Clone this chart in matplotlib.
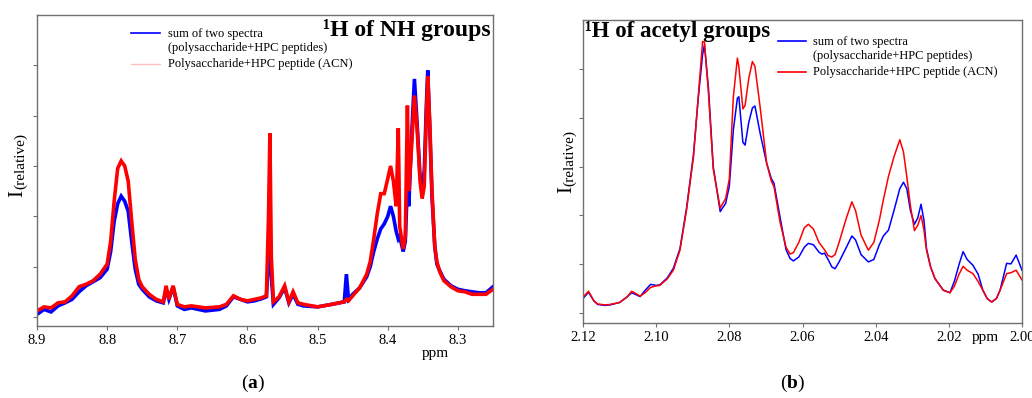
import matplotlib
matplotlib.use("Agg")
import matplotlib.pyplot as plt
from matplotlib.lines import Line2D

plt.rcParams['font.family'] = ['Liberation Serif', 'DejaVu Serif']
plt.rcParams['mathtext.fontset'] = 'custom'
plt.rcParams['mathtext.rm'] = 'Liberation Serif'
plt.rcParams['mathtext.bf'] = 'Liberation Serif:bold'

# ---------------- Data: (a) NH groups ----------------
NH_PPM = [8.900, 8.890, 8.880, 8.870, 8.860, 8.850, 8.840, 8.830, 8.820, 8.810,
          8.800, 8.795, 8.790, 8.785, 8.780, 8.775, 8.770, 8.765, 8.760, 8.755,
          8.750, 8.740, 8.730, 8.720, 8.716, 8.712, 8.706, 8.700, 8.690, 8.680,
          8.660, 8.640, 8.630, 8.620, 8.610, 8.600, 8.590, 8.580, 8.573, 8.570,
          8.568, 8.566, 8.563, 8.555, 8.547, 8.541, 8.535, 8.528, 8.520, 8.500,
          8.480, 8.462, 8.459, 8.456, 8.450, 8.440, 8.430, 8.425, 8.420, 8.415,
          8.410, 8.405, 8.400, 8.396, 8.392, 8.388, 8.385, 8.383, 8.378, 8.375,
          8.372, 8.370, 8.366, 8.362, 8.358, 8.354, 8.351, 8.348, 8.345, 8.343,
          8.340, 8.337, 8.333, 8.330, 8.326, 8.320, 8.310, 8.300, 8.290, 8.280,
          8.270, 8.260, 8.250]
NH_RED = [0.12, 0.20, 0.18, 0.28, 0.30, 0.42, 0.60, 0.65, 0.72, 0.85,
          1.05, 1.50, 2.30, 2.95, 3.10, 3.00, 2.70, 1.90, 1.15, 0.75,
          0.60, 0.45, 0.35, 0.30, 0.62, 0.35, 0.62, 0.25, 0.20, 0.22,
          0.18, 0.20, 0.25, 0.42, 0.35, 0.32, 0.35, 0.38, 0.42, 2.00,
          3.65, 1.20, 0.30, 0.40, 0.62, 0.30, 0.50, 0.28, 0.25, 0.20,
          0.25, 0.30, 0.35, 0.32, 0.42, 0.58, 0.85, 1.10, 1.55, 2.05,
          2.45, 2.45, 2.75, 3.00, 2.70, 2.20, 3.75, 1.80, 1.35, 1.60,
          4.20, 2.50, 3.40, 4.40, 3.70, 2.70, 2.35, 2.60, 4.00, 4.78,
          3.80, 2.50, 1.40, 1.10, 0.90, 0.72, 0.60, 0.52, 0.50, 0.45,
          0.45, 0.45, 0.55]
NH_BLUE = [0.05, 0.15, 0.10, 0.22, 0.28, 0.35, 0.50, 0.62, 0.70, 0.78,
           0.95, 1.30, 1.90, 2.25, 2.40, 2.30, 2.10, 1.50, 0.95, 0.65,
           0.55, 0.40, 0.32, 0.28, 0.55, 0.35, 0.60, 0.22, 0.15, 0.18,
           0.12, 0.15, 0.22, 0.40, 0.35, 0.30, 0.32, 0.36, 0.40, 1.20,
           1.57, 0.80, 0.25, 0.38, 0.58, 0.28, 0.45, 0.25, 0.22, 0.20,
           0.25, 0.30, 0.85, 0.35, 0.45, 0.58, 0.80, 1.00, 1.30, 1.55,
           1.75, 1.85, 2.00, 2.20, 2.00, 1.70, 1.55, 1.60, 1.30, 1.50,
           2.65, 2.20, 3.60, 4.73, 3.80, 2.80, 2.58, 2.90, 4.20, 4.90,
           3.70, 2.40, 1.40, 1.05, 0.92, 0.75, 0.62, 0.55, 0.52, 0.50,
           0.48, 0.48, 0.60]
NH_TICKS = [8.9, 8.8, 8.7, 8.6, 8.5, 8.4, 8.3]

# ---------------- Data: (b) acetyl groups ----------------
AC_PPM = [2.1200, 2.1185, 2.1170, 2.1160, 2.1140, 2.1126, 2.1100, 2.1080, 2.1067, 2.1055,
          2.1044, 2.1030, 2.1015, 2.1000, 2.0990, 2.0970, 2.0953, 2.0935, 2.0917, 2.0898,
          2.0885, 2.0873, 2.0868, 2.0857, 2.0844, 2.0825, 2.0810, 2.0800, 2.0789, 2.0778,
          2.0774, 2.0763, 2.0757, 2.0747, 2.0737, 2.0730, 2.0716, 2.0698, 2.0685, 2.0678,
          2.0661, 2.0645, 2.0634, 2.0625, 2.0610, 2.0595, 2.0584, 2.0570, 2.0555, 2.0547,
          2.0540, 2.0530, 2.0520, 2.0511, 2.0500, 2.0480, 2.0465, 2.0455, 2.0440, 2.0420,
          2.0405, 2.0390, 2.0379, 2.0365, 2.0350, 2.0334, 2.0324, 2.0315, 2.0305, 2.0294,
          2.0285, 2.0276, 2.0268, 2.0261, 2.0250, 2.0238, 2.0215, 2.0197, 2.0185, 2.0172,
          2.0161, 2.0150, 2.0134, 2.0120, 2.0107, 2.0095, 2.0083, 2.0070, 2.0060, 2.0042,
          2.0030, 2.0016, 2.0000]
AC_RED = [0.33, 0.45, 0.25, 0.19, 0.17, 0.18, 0.22, 0.33, 0.45, 0.40,
          0.35, 0.42, 0.53, 0.56, 0.57, 0.70, 0.88, 1.29, 2.11, 3.20,
          4.43, 5.56, 5.55, 4.50, 2.95, 2.15, 2.35, 2.75, 4.43, 5.22,
          5.05, 4.18, 4.25, 4.80, 5.15, 5.05, 4.23, 3.07, 2.70, 2.59,
          1.85, 1.35, 1.21, 1.24, 1.45, 1.75, 1.82, 1.72, 1.45, 1.37,
          1.30, 1.18, 1.15, 1.20, 1.45, 1.95, 2.28, 2.10, 1.60, 1.29,
          1.45, 1.90, 2.32, 2.80, 3.20, 3.55, 3.30, 2.80, 2.20, 1.69,
          1.80, 2.00, 1.70, 1.29, 0.95, 0.71, 0.47, 0.42, 0.55, 0.80,
          0.96, 0.88, 0.81, 0.65, 0.47, 0.30, 0.23, 0.30, 0.47, 0.81,
          0.83, 0.88, 0.68]
AC_BLUE = [0.30, 0.43, 0.25, 0.18, 0.16, 0.17, 0.22, 0.33, 0.42, 0.38,
           0.34, 0.47, 0.59, 0.57, 0.58, 0.72, 0.92, 1.32, 2.15, 3.25,
           4.40, 5.30, 5.49, 4.60, 3.00, 2.08, 2.25, 2.60, 3.75, 4.40,
           4.43, 3.50, 3.44, 3.90, 4.20, 4.24, 3.69, 3.07, 2.75, 2.66,
           1.95, 1.30, 1.12, 1.07, 1.15, 1.35, 1.43, 1.40, 1.25, 1.21,
           1.23, 1.10, 0.95, 0.91, 1.05, 1.35, 1.58, 1.50, 1.20, 1.05,
           1.10, 1.40, 1.58, 1.70, 2.10, 2.55, 2.68, 2.55, 2.10, 1.82,
           1.95, 2.23, 1.90, 1.32, 0.95, 0.71, 0.47, 0.42, 0.65, 1.00,
           1.26, 1.10, 0.98, 0.80, 0.47, 0.30, 0.23, 0.30, 0.47, 1.02,
           1.01, 1.19, 0.88]
AC_TICKS = [2.12, 2.10, 2.08, 2.06, 2.04, 2.02, 2.00]

LEGEND_BLUE = "sum of two spectra\n(polysaccharide+HPC peptides)"
LEGEND_RED = "Polysaccharide+HPC peptide (ACN)"

BLUE = '#0000ff'
RED = '#ff0000'
SPINE = '#707070'

fig = plt.figure(figsize=(10.32, 3.98), dpi=100)
W, H = 1032, 398


def px_axes(l, t, r, b):
    return fig.add_axes([l / W, 1 - b / H, (r - l) / W, (b - t) / H])


def style(ax):
    for s in ax.spines.values():
        s.set_color(SPINE)
        s.set_linewidth(1.0)
    ax.tick_params(axis='both', direction='out', color=SPINE, length=3,
                   width=0.8, labelsize=10.5, pad=3)
    ax.tick_params(axis='y', labelleft=False)
    ax.set_yticks([0, 1, 2, 3, 4, 5])


# ---- (a) ----
ax1 = px_axes(37, 15, 493, 326)
ax1.plot(NH_PPM, NH_BLUE, color=BLUE, lw=2.6, solid_joinstyle='miter')
ax1.plot(NH_PPM, NH_RED, color=RED, lw=2.6, solid_joinstyle='miter')
ax1.set_xlim(8.9, 8.25)
ax1.set_ylim(-0.18, 6.0)
ax1.set_xticks(NH_TICKS)
ax1.set_xticklabels([f"{t:.1f}" for t in NH_TICKS])
style(ax1)
fig.text(435 / W, 1 - 354 / H, "ppm", fontsize=11, ha='center', va='center')
fig.text(323 / W, 1 - 30 / H, "\u00b9H of NH groups", fontsize=17,
         fontweight='bold', ha='left', va='center')
fig.add_artist(Line2D([131 / W, 160 / W], [1 - 33 / H, 1 - 33 / H], color=BLUE, lw=1.2))
fig.add_artist(Line2D([131 / W, 160 / W], [1 - 64 / H, 1 - 64 / H], color='#ffc0c0', lw=1.0))
fig.text(168 / W, 1 - 41 / H, LEGEND_BLUE, fontsize=9, ha='left', va='center',
         linespacing=1.25)
fig.text(168 / W, 1 - 64 / H, LEGEND_RED, fontsize=9, ha='left', va='center')
fig.text(18 / W, 1 - 193 / H, "I", fontsize=15, rotation=90, ha='center', va='center')
fig.text(21 / W, 1 - 161 / H, "(relative)", fontsize=11, rotation=90, ha='center', va='center')
fig.text(253 / W, 1 - 383 / H, r"($\mathbf{a}$)", fontsize=14, ha='center', va='center')

# ---- (b) ----
ax2 = px_axes(583, 20, 1022, 323)
ax2.plot(AC_PPM, AC_BLUE, color=BLUE, lw=1.1)
ax2.plot(AC_PPM, AC_RED, color=RED, lw=1.1)
ax2.set_xlim(2.12, 2.00)
ax2.set_ylim(-0.2, 6.0)
ax2.set_xticks(AC_TICKS)
ax2.set_xticklabels([f"{t:.2f}" for t in AC_TICKS])
style(ax2)
fig.text(985 / W, 1 - 338 / H, "ppm", fontsize=11, ha='center', va='center')
fig.text(585 / W, 1 - 31 / H, "\u00b9H of acetyl groups", fontsize=16.5,
         fontweight='bold', ha='left', va='center')
fig.add_artist(Line2D([778 / W, 806 / W], [1 - 41 / H, 1 - 41 / H], color=BLUE, lw=1.2))
fig.add_artist(Line2D([778 / W, 806 / W], [1 - 72 / H, 1 - 72 / H], color=RED, lw=1.2))
fig.text(813 / W, 1 - 49 / H, LEGEND_BLUE, fontsize=9, ha='left', va='center',
         linespacing=1.25)
fig.text(813 / W, 1 - 72 / H, LEGEND_RED, fontsize=9, ha='left', va='center')
fig.text(567 / W, 1 - 190 / H, "I", fontsize=15, rotation=90, ha='center', va='center')
fig.text(570 / W, 1 - 158 / H, "(relative)", fontsize=11, rotation=90, ha='center', va='center')
fig.text(793 / W, 1 - 383 / H, r"($\mathbf{b}$)", fontsize=14, ha='center', va='center')

fig.savefig("out.png", dpi=100)
